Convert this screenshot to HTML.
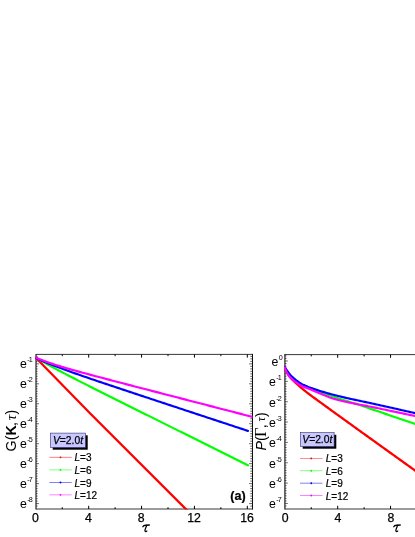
<!DOCTYPE html><html><head><meta charset="utf-8"><style>html,body{margin:0;padding:0;background:#fff}svg{display:block;will-change:transform}</style></head><body><svg width="415" height="537" viewBox="0 0 415 537" font-family="Liberation Sans, sans-serif" fill="#000"><rect width="415" height="537" fill="#fff"/><defs><clipPath id="ca"><rect x="35.3" y="353.4" width="217.2" height="156"/></clipPath><clipPath id="cb"><rect x="284.1" y="353.4" width="140" height="156"/></clipPath></defs><path d="M36.0 354.4H252.5M36.0 509.0H252.5" stroke="#1c1c1c" stroke-width="0.88" fill="none"/><path d="M36.0 353.9V509.5" stroke="#2a2a2a" stroke-width="1.25" fill="none"/><path d="M252.5 353.9V509.5" stroke="#000" stroke-width="0.95" fill="none"/><path d="M62.24 509.0v-1.8M62.24 354.4v1.8M88.68 509.0v-3.2M88.68 354.4v3.2M115.12 509.0v-1.8M115.12 354.4v1.8M141.56 509.0v-3.2M141.56 354.4v3.2M168.00 509.0v-1.8M168.00 354.4v1.8M194.44 509.0v-3.2M194.44 354.4v3.2M220.88 509.0v-1.8M220.88 354.4v1.8M247.32 509.0v-3.2M247.32 354.4v3.2" stroke="#000" stroke-width="1" fill="none"/><path d="M36.0 356.38h1.6M252.5 356.38h-2.2M36.0 358.87h1.6M252.5 358.87h-2.2M36.0 361.36h1.6M252.5 361.36h-2.2M36.0 363.86h2.9M252.5 363.86h-3.4M36.0 366.35h1.6M252.5 366.35h-2.2M36.0 368.85h1.6M252.5 368.85h-2.2M36.0 371.34h1.6M252.5 371.34h-2.2M36.0 373.84h1.6M252.5 373.84h-2.2M36.0 376.33h1.6M252.5 376.33h-2.2M36.0 378.83h1.6M252.5 378.83h-2.2M36.0 381.32h1.6M252.5 381.32h-2.2M36.0 383.82h2.9M252.5 383.82h-3.4M36.0 386.31h1.6M252.5 386.31h-2.2M36.0 388.81h1.6M252.5 388.81h-2.2M36.0 391.30h1.6M252.5 391.30h-2.2M36.0 393.80h1.6M252.5 393.80h-2.2M36.0 396.29h1.6M252.5 396.29h-2.2M36.0 398.79h1.6M252.5 398.79h-2.2M36.0 401.28h1.6M252.5 401.28h-2.2M36.0 403.78h2.9M252.5 403.78h-3.4M36.0 406.27h1.6M252.5 406.27h-2.2M36.0 408.77h1.6M252.5 408.77h-2.2M36.0 411.26h1.6M252.5 411.26h-2.2M36.0 413.76h1.6M252.5 413.76h-2.2M36.0 416.25h1.6M252.5 416.25h-2.2M36.0 418.75h1.6M252.5 418.75h-2.2M36.0 421.25h1.6M252.5 421.25h-2.2M36.0 423.74h2.9M252.5 423.74h-3.4M36.0 426.24h1.6M252.5 426.24h-2.2M36.0 428.73h1.6M252.5 428.73h-2.2M36.0 431.22h1.6M252.5 431.22h-2.2M36.0 433.72h1.6M252.5 433.72h-2.2M36.0 436.21h1.6M252.5 436.21h-2.2M36.0 438.71h1.6M252.5 438.71h-2.2M36.0 441.20h1.6M252.5 441.20h-2.2M36.0 443.70h2.9M252.5 443.70h-3.4M36.0 446.19h1.6M252.5 446.19h-2.2M36.0 448.69h1.6M252.5 448.69h-2.2M36.0 451.19h1.6M252.5 451.19h-2.2M36.0 453.68h1.6M252.5 453.68h-2.2M36.0 456.17h1.6M252.5 456.17h-2.2M36.0 458.67h1.6M252.5 458.67h-2.2M36.0 461.16h1.6M252.5 461.16h-2.2M36.0 463.66h2.9M252.5 463.66h-3.4M36.0 466.15h1.6M252.5 466.15h-2.2M36.0 468.65h1.6M252.5 468.65h-2.2M36.0 471.14h1.6M252.5 471.14h-2.2M36.0 473.64h1.6M252.5 473.64h-2.2M36.0 476.13h1.6M252.5 476.13h-2.2M36.0 478.63h1.6M252.5 478.63h-2.2M36.0 481.12h1.6M252.5 481.12h-2.2M36.0 483.62h2.9M252.5 483.62h-3.4M36.0 486.12h1.6M252.5 486.12h-2.2M36.0 488.61h1.6M252.5 488.61h-2.2M36.0 491.11h1.6M252.5 491.11h-2.2M36.0 493.60h1.6M252.5 493.60h-2.2M36.0 496.09h1.6M252.5 496.09h-2.2M36.0 498.59h1.6M252.5 498.59h-2.2M36.0 501.08h1.6M252.5 501.08h-2.2M36.0 503.58h2.9M252.5 503.58h-3.4M36.0 506.07h1.6M252.5 506.07h-2.2" stroke="#222" stroke-width="0.7" fill="none"/><path d="M284.9 354.6H430M284.9 509.0H430" stroke="#1c1c1c" stroke-width="0.88" fill="none"/><path d="M284.9 354.1V509.5" stroke="#2a2a2a" stroke-width="1.25" fill="none"/><path d="M311.24 509.0v-1.8M311.24 354.6v1.8M337.68 509.0v-3.2M337.68 354.6v3.2M364.12 509.0v-1.8M364.12 354.6v1.8M390.56 509.0v-3.2M390.56 354.6v3.2M417.00 509.0v-1.8M417.00 354.6v1.8" stroke="#000" stroke-width="1" fill="none"/><path d="M284.9 355.91h1.6M284.9 358.46h1.6M284.9 361.00h2.9M284.9 363.54h1.6M284.9 366.09h1.6M284.9 368.63h1.6M284.9 371.17h1.6M284.9 373.72h1.6M284.9 376.26h1.6M284.9 378.81h1.6M284.9 381.35h2.9M284.9 383.89h1.6M284.9 386.44h1.6M284.9 388.98h1.6M284.9 391.52h1.6M284.9 394.07h1.6M284.9 396.61h1.6M284.9 399.16h1.6M284.9 401.70h2.9M284.9 404.24h1.6M284.9 406.79h1.6M284.9 409.33h1.6M284.9 411.88h1.6M284.9 414.42h1.6M284.9 416.96h1.6M284.9 419.51h1.6M284.9 422.05h2.9M284.9 424.59h1.6M284.9 427.14h1.6M284.9 429.68h1.6M284.9 432.22h1.6M284.9 434.77h1.6M284.9 437.31h1.6M284.9 439.86h1.6M284.9 442.40h2.9M284.9 444.94h1.6M284.9 447.49h1.6M284.9 450.03h1.6M284.9 452.57h1.6M284.9 455.12h1.6M284.9 457.66h1.6M284.9 460.21h1.6M284.9 462.75h2.9M284.9 465.29h1.6M284.9 467.84h1.6M284.9 470.38h1.6M284.9 472.92h1.6M284.9 475.47h1.6M284.9 478.01h1.6M284.9 480.56h1.6M284.9 483.10h2.9M284.9 485.64h1.6M284.9 488.19h1.6M284.9 490.73h1.6M284.9 493.27h1.6M284.9 495.82h1.6M284.9 498.36h1.6M284.9 500.91h1.6M284.9 503.45h2.9M284.9 505.99h1.6" stroke="#222" stroke-width="0.7" fill="none"/><g clip-path="url(#ca)"><path d="M35.80 357.70 L90.00 413.20 L200.00 523.20" stroke="#ff0000" stroke-width="2.3" fill="none" stroke-linejoin="round" stroke-linecap="round"/><path d="M35.80 357.60 L37.80 358.79 L39.80 359.97 L41.80 361.13 L43.80 362.27 L45.80 363.40 L47.80 364.52 L49.80 365.62 L51.80 366.72 L53.80 367.80 L55.80 368.88 L57.80 369.95 L59.80 371.01 L61.80 372.06 L63.80 373.11 L65.80 374.16 L67.80 375.20 L69.80 376.23 L71.80 377.26 L73.80 378.29 L75.80 379.32 L77.80 380.34 L79.80 381.36 L81.80 382.37 L83.80 383.39 L85.80 384.40 L87.80 385.41 L89.80 386.42 L91.80 387.43 L93.80 388.44 L95.80 389.45 L97.80 390.45 L99.80 391.45 L101.80 392.46 L103.80 393.46 L105.80 394.46 L107.80 395.46 L109.80 396.46 L111.80 397.46 L113.80 398.46 L115.80 399.46 L117.80 400.46 L119.80 401.46 L121.80 402.46 L123.80 403.45 L125.80 404.45 L127.80 405.45 L129.80 406.45 L131.80 407.44 L133.80 408.44 L135.80 409.44 L137.80 410.43 L139.80 411.43 L141.80 412.42 L143.80 413.42 L145.80 414.42 L147.80 415.41 L149.80 416.41 L151.80 417.40 L153.80 418.40 L155.80 419.39 L157.80 420.39 L159.80 421.39 L161.80 422.38 L163.80 423.38 L165.80 424.37 L167.80 425.37 L169.80 426.36 L171.80 427.36 L173.80 428.35 L175.80 429.35 L177.80 430.34 L179.80 431.34 L181.80 432.33 L183.80 433.33 L185.80 434.32 L187.80 435.32 L189.80 436.31 L191.80 437.31 L193.80 438.30 L195.80 439.30 L197.80 440.29 L199.80 441.29 L201.80 442.28 L203.80 443.28 L205.80 444.27 L207.80 445.27 L209.80 446.26 L211.80 447.26 L213.80 448.25 L215.80 449.25 L217.80 450.24 L219.80 451.24 L221.80 452.23 L223.80 453.23 L225.80 454.22 L227.80 455.22 L229.80 456.21 L231.80 457.21 L233.80 458.20 L235.80 459.20 L237.80 460.19 L239.80 461.19 L241.80 462.18 L243.80 463.18 L245.80 464.17 L247.80 465.17 L248.00 465.27" stroke="#00ff00" stroke-width="2.15" fill="none" stroke-linejoin="round" stroke-linecap="round"/><path d="M35.80 358.00 L37.80 358.91 L39.80 359.80 L41.80 360.67 L43.80 361.52 L45.80 362.36 L47.80 363.18 L49.80 363.99 L51.80 364.78 L53.80 365.56 L55.80 366.33 L57.80 367.09 L59.80 367.85 L61.80 368.59 L63.80 369.33 L65.80 370.06 L67.80 370.78 L69.80 371.50 L71.80 372.22 L73.80 372.92 L75.80 373.63 L77.80 374.33 L79.80 375.03 L81.80 375.72 L83.80 376.41 L85.80 377.10 L87.80 377.79 L89.80 378.47 L91.80 379.15 L93.80 379.83 L95.80 380.51 L97.80 381.19 L99.80 381.86 L101.80 382.54 L103.80 383.21 L105.80 383.88 L107.80 384.55 L109.80 385.22 L111.80 385.89 L113.80 386.56 L115.80 387.22 L117.80 387.89 L119.80 388.56 L121.80 389.22 L123.80 389.89 L125.80 390.55 L127.80 391.22 L129.80 391.88 L131.80 392.54 L133.80 393.21 L135.80 393.87 L137.80 394.53 L139.80 395.19 L141.80 395.86 L143.80 396.52 L145.80 397.18 L147.80 397.84 L149.80 398.50 L151.80 399.17 L153.80 399.83 L155.80 400.49 L157.80 401.15 L159.80 401.81 L161.80 402.47 L163.80 403.13 L165.80 403.79 L167.80 404.45 L169.80 405.11 L171.80 405.77 L173.80 406.43 L175.80 407.10 L177.80 407.76 L179.80 408.42 L181.80 409.08 L183.80 409.74 L185.80 410.40 L187.80 411.06 L189.80 411.72 L191.80 412.38 L193.80 413.04 L195.80 413.70 L197.80 414.36 L199.80 415.02 L201.80 415.68 L203.80 416.34 L205.80 417.00 L207.80 417.66 L209.80 418.32 L211.80 418.98 L213.80 419.64 L215.80 420.30 L217.80 420.96 L219.80 421.62 L221.80 422.28 L223.80 422.94 L225.80 423.60 L227.80 424.26 L229.80 424.92 L231.80 425.58 L233.80 426.24 L235.80 426.90 L237.80 427.56 L239.80 428.22 L241.80 428.88 L243.80 429.54 L245.80 430.20 L247.80 430.86 L248.00 430.93" stroke="#0000ff" stroke-width="2.15" fill="none" stroke-linejoin="round" stroke-linecap="round"/><path d="M35.80 357.60 L37.80 358.45 L39.80 359.26 L41.80 360.05 L43.80 360.81 L45.80 361.54 L47.80 362.25 L49.80 362.94 L51.80 363.61 L53.80 364.27 L55.80 364.91 L57.80 365.54 L59.80 366.15 L61.80 366.76 L63.80 367.36 L65.80 367.95 L67.80 368.53 L69.80 369.11 L71.80 369.68 L73.80 370.24 L75.80 370.80 L77.80 371.36 L79.80 371.91 L81.80 372.45 L83.80 373.00 L85.80 373.54 L87.80 374.08 L89.80 374.62 L91.80 375.15 L93.80 375.69 L95.80 376.22 L97.80 376.75 L99.80 377.28 L101.80 377.81 L103.80 378.33 L105.80 378.86 L107.80 379.39 L109.80 379.91 L111.80 380.43 L113.80 380.96 L115.80 381.48 L117.80 382.00 L119.80 382.52 L121.80 383.04 L123.80 383.57 L125.80 384.09 L127.80 384.61 L129.80 385.13 L131.80 385.65 L133.80 386.17 L135.80 386.69 L137.80 387.21 L139.80 387.73 L141.80 388.24 L143.80 388.76 L145.80 389.28 L147.80 389.80 L149.80 390.32 L151.80 390.84 L153.80 391.36 L155.80 391.88 L157.80 392.39 L159.80 392.91 L161.80 393.43 L163.80 393.95 L165.80 394.47 L167.80 394.99 L169.80 395.50 L171.80 396.02 L173.80 396.54 L175.80 397.06 L177.80 397.58 L179.80 398.09 L181.80 398.61 L183.80 399.13 L185.80 399.65 L187.80 400.17 L189.80 400.69 L191.80 401.20 L193.80 401.72 L195.80 402.24 L197.80 402.76 L199.80 403.28 L201.80 403.79 L203.80 404.31 L205.80 404.83 L207.80 405.35 L209.80 405.87 L211.80 406.38 L213.80 406.90 L215.80 407.42 L217.80 407.94 L219.80 408.46 L221.80 408.97 L223.80 409.49 L225.80 410.01 L227.80 410.53 L229.80 411.05 L231.80 411.56 L233.80 412.08 L235.80 412.60 L237.80 413.12 L239.80 413.64 L241.80 414.15 L243.80 414.67 L245.80 415.19 L247.80 415.71 L249.80 416.23 L251.80 416.74 L252.60 416.95" stroke="#ff00ff" stroke-width="2.15" fill="none" stroke-linejoin="round" stroke-linecap="round"/></g><g clip-path="url(#cb)"><path d="M284.70 367.30 L286.20 371.17 L286.70 372.20 L288.20 374.66 L289.70 376.65 L290.40 377.50 L291.90 379.15 L293.40 380.62 L294.20 381.40 L295.70 382.85 L297.20 384.25 L297.90 384.90 L299.40 386.27 L300.90 387.60 L301.60 388.20 L303.10 389.45 L304.60 390.65 L305.30 391.20 L306.80 392.36 L308.30 393.50 L309.10 394.10 L310.60 395.22 L312.10 396.33 L312.80 396.85 L314.30 397.95 L315.80 399.05 L317.30 400.14 L318.80 401.23 L320.00 402.10 L321.50 403.19 L323.00 404.28 L324.50 405.37 L326.00 406.46 L327.50 407.55 L329.00 408.64 L330.50 409.73 L332.00 410.81 L333.50 411.90 L335.00 412.98 L336.50 414.07 L338.00 415.15 L339.50 416.24 L340.00 416.60 L341.50 417.68 L343.00 418.77 L344.50 419.85 L346.00 420.93 L347.50 422.01 L349.00 423.09 L350.50 424.18 L352.00 425.26 L353.50 426.34 L355.00 427.42 L356.50 428.50 L358.00 429.58 L359.50 430.66 L361.00 431.73 L362.50 432.81 L364.00 433.89 L365.50 434.97 L367.00 436.05 L368.50 437.13 L370.00 438.20 L371.50 439.28 L373.00 440.36 L374.50 441.43 L376.00 442.51 L377.50 443.59 L379.00 444.66 L380.50 445.74 L382.00 446.82 L383.50 447.89 L385.00 448.97 L386.50 450.05 L388.00 451.12 L389.50 452.20 L391.00 453.27 L392.50 454.35 L394.00 455.42 L395.50 456.50 L397.00 457.57 L398.50 458.65 L400.00 459.73 L401.50 460.80 L403.00 461.88 L404.50 462.95 L406.00 464.03 L407.50 465.10 L409.00 466.18 L410.50 467.25 L412.00 468.33 L413.50 469.41 L415.00 470.48 L416.50 471.56 L418.00 472.63 L419.50 473.71 L421.00 474.79 L422.50 475.86 L424.00 476.94 L425.50 478.02 L427.00 479.09 L428.50 480.17 L430.00 481.25" stroke="#ff0000" stroke-width="2.3" fill="none" stroke-linejoin="round" stroke-linecap="round"/><path d="M284.70 367.10 L286.20 370.13 L286.70 371.00 L288.20 373.26 L289.70 375.19 L290.40 376.00 L291.90 377.55 L293.40 378.92 L294.20 379.60 L295.70 380.81 L297.20 381.91 L297.90 382.40 L299.40 383.40 L300.90 384.31 L301.60 384.70 L303.10 385.43 L304.60 386.09 L305.30 386.40 L306.80 387.05 L308.30 387.68 L309.10 388.00 L310.60 388.58 L312.10 389.14 L312.80 389.40 L314.30 389.97 L315.80 390.55 L317.30 391.12 L318.60 391.60 L320.10 392.15 L321.60 392.69 L323.10 393.22 L324.60 393.75 L326.10 394.28 L327.60 394.80 L329.10 395.31 L330.60 395.83 L332.10 396.33 L333.60 396.83 L335.00 397.30 L336.50 397.79 L338.00 398.28 L339.50 398.75 L341.00 399.22 L342.50 399.69 L344.00 400.16 L345.50 400.62 L347.00 401.08 L348.50 401.55 L350.00 402.01 L351.50 402.48 L353.00 402.96 L354.50 403.44 L355.00 403.60 L356.50 404.09 L358.00 404.58 L359.50 405.08 L361.00 405.58 L362.50 406.08 L364.00 406.58 L365.50 407.09 L367.00 407.59 L368.50 408.10 L370.00 408.61 L371.50 409.12 L373.00 409.62 L374.50 410.13 L375.00 410.30 L376.50 410.81 L378.00 411.32 L379.50 411.83 L381.00 412.34 L382.50 412.85 L384.00 413.36 L385.50 413.88 L387.00 414.39 L388.50 414.91 L390.00 415.43 L391.50 415.94 L393.00 416.46 L394.50 416.97 L396.00 417.49 L397.50 418.00 L399.00 418.52 L400.50 419.03 L402.00 419.54 L403.50 420.05 L405.00 420.56 L406.50 421.07 L408.00 421.57 L409.50 422.08 L411.00 422.58 L412.50 423.08 L414.00 423.57 L415.00 423.90 L416.50 424.39 L418.00 424.88 L419.50 425.36 L421.00 425.84 L422.50 426.32 L424.00 426.79 L425.50 427.27 L427.00 427.74 L428.50 428.22 L430.00 428.70" stroke="#00ff00" stroke-width="2.15" fill="none" stroke-linejoin="round" stroke-linecap="round"/><path d="M284.70 366.80 L286.20 369.24 L286.70 370.00 L288.20 372.18 L289.70 374.18 L290.40 375.00 L291.90 376.55 L293.40 377.91 L294.20 378.60 L295.70 379.84 L297.20 380.99 L297.90 381.50 L299.40 382.54 L300.90 383.50 L301.60 383.90 L303.10 384.66 L304.60 385.34 L305.30 385.65 L306.80 386.33 L308.30 386.98 L309.10 387.30 L310.60 387.85 L312.10 388.36 L312.80 388.60 L314.30 389.11 L315.80 389.61 L317.30 390.09 L318.60 390.50 L320.10 390.96 L321.60 391.42 L323.10 391.87 L324.60 392.31 L326.10 392.75 L327.60 393.18 L329.10 393.61 L330.60 394.02 L332.10 394.43 L333.60 394.83 L335.00 395.20 L336.50 395.58 L338.00 395.95 L339.50 396.32 L341.00 396.67 L342.50 397.02 L344.00 397.37 L345.00 397.60 L346.50 397.94 L348.00 398.28 L349.50 398.62 L351.00 398.95 L352.50 399.27 L354.00 399.60 L355.50 399.92 L357.00 400.25 L358.50 400.57 L360.00 400.88 L361.50 401.20 L363.00 401.52 L364.50 401.84 L366.00 402.16 L367.50 402.48 L369.00 402.80 L370.50 403.12 L372.00 403.44 L373.50 403.77 L375.00 404.10 L376.50 404.43 L378.00 404.76 L379.50 405.10 L381.00 405.43 L382.50 405.77 L384.00 406.11 L385.50 406.44 L387.00 406.78 L388.50 407.12 L390.00 407.46 L391.50 407.80 L393.00 408.14 L394.50 408.48 L396.00 408.82 L397.50 409.16 L399.00 409.50 L400.50 409.84 L402.00 410.18 L403.50 410.52 L405.00 410.86 L406.50 411.20 L408.00 411.53 L409.50 411.87 L411.00 412.21 L412.50 412.54 L414.00 412.88 L415.00 413.10 L416.50 413.43 L418.00 413.76 L419.50 414.09 L421.00 414.42 L422.50 414.75 L424.00 415.08 L425.50 415.41 L427.00 415.74 L428.50 416.07 L430.00 416.40" stroke="#0000ff" stroke-width="2.15" fill="none" stroke-linejoin="round" stroke-linecap="round"/><path d="M284.70 367.30 L286.20 371.26 L286.70 372.30 L288.20 374.79 L289.70 376.79 L290.40 377.60 L291.90 379.14 L293.40 380.45 L294.20 381.10 L295.70 382.23 L297.20 383.25 L297.90 383.70 L299.40 384.66 L300.90 385.54 L301.60 385.90 L303.10 386.55 L304.60 387.13 L305.30 387.40 L306.80 387.99 L308.30 388.58 L309.10 388.90 L310.60 389.50 L312.10 390.11 L312.80 390.40 L314.30 391.04 L315.80 391.70 L317.30 392.36 L318.60 392.90 L320.10 393.51 L321.60 394.13 L323.10 394.75 L324.60 395.37 L326.10 395.98 L327.60 396.57 L329.10 397.14 L330.60 397.69 L332.10 398.20 L333.60 398.69 L335.00 399.10 L336.50 399.52 L338.00 399.92 L339.50 400.31 L341.00 400.68 L342.50 401.04 L344.00 401.40 L345.50 401.74 L347.00 402.07 L348.50 402.39 L350.00 402.71 L351.50 403.01 L353.00 403.32 L354.50 403.61 L356.00 403.90 L357.50 404.19 L359.00 404.48 L360.50 404.76 L362.00 405.05 L363.50 405.33 L365.00 405.61 L366.50 405.90 L368.00 406.19 L369.50 406.48 L371.00 406.78 L372.50 407.08 L374.00 407.39 L375.00 407.60 L376.50 407.92 L378.00 408.23 L379.50 408.55 L381.00 408.87 L382.50 409.18 L384.00 409.50 L385.50 409.82 L387.00 410.13 L388.50 410.45 L390.00 410.76 L391.50 411.08 L393.00 411.40 L394.50 411.71 L396.00 412.03 L397.50 412.34 L399.00 412.66 L400.50 412.97 L402.00 413.28 L403.50 413.60 L405.00 413.91 L406.50 414.23 L408.00 414.54 L409.50 414.85 L411.00 415.17 L412.50 415.48 L414.00 415.79 L415.00 416.00 L416.50 416.31 L418.00 416.62 L419.50 416.93 L421.00 417.24 L422.50 417.55 L424.00 417.86 L425.50 418.17 L427.00 418.48 L428.50 418.79 L430.00 419.10" stroke="#ff00ff" stroke-width="2.15" fill="none" stroke-linejoin="round" stroke-linecap="round"/></g><text x="19.9" y="368.46" font-size="12.3">e<tspan font-size="7.2" dx="0.4" dy="-6.4">-</tspan><tspan font-size="7.2" dx="-0.9">1</tspan></text><text x="19.9" y="388.42" font-size="12.3">e<tspan font-size="7.2" dx="0.4" dy="-6.4">-</tspan><tspan font-size="7.2" dx="-0.9">2</tspan></text><text x="19.9" y="408.38" font-size="12.3">e<tspan font-size="7.2" dx="0.4" dy="-6.4">-</tspan><tspan font-size="7.2" dx="-0.9">3</tspan></text><text x="19.9" y="428.34" font-size="12.3">e<tspan font-size="7.2" dx="0.4" dy="-6.4">-</tspan><tspan font-size="7.2" dx="-0.9">4</tspan></text><text x="19.9" y="448.30" font-size="12.3">e<tspan font-size="7.2" dx="0.4" dy="-6.4">-</tspan><tspan font-size="7.2" dx="-0.9">5</tspan></text><text x="19.9" y="468.26" font-size="12.3">e<tspan font-size="7.2" dx="0.4" dy="-6.4">-</tspan><tspan font-size="7.2" dx="-0.9">6</tspan></text><text x="19.9" y="488.22" font-size="12.3">e<tspan font-size="7.2" dx="0.4" dy="-6.4">-</tspan><tspan font-size="7.2" dx="-0.9">7</tspan></text><text x="19.9" y="508.18" font-size="12.3">e<tspan font-size="7.2" dx="0.4" dy="-6.4">-</tspan><tspan font-size="7.2" dx="-0.9">8</tspan></text><text x="271.6" y="365.85" font-size="12.3">e<tspan font-size="7.2" dx="0.2" dy="-5.9">0</tspan></text><text x="269.0" y="386.20" font-size="12.3">e<tspan font-size="7.2" dx="0.4" dy="-5.9">-</tspan><tspan font-size="7.2" dx="-0.9">1</tspan></text><text x="269.0" y="406.55" font-size="12.3">e<tspan font-size="7.2" dx="0.4" dy="-5.9">-</tspan><tspan font-size="7.2" dx="-0.9">2</tspan></text><text x="269.0" y="426.90" font-size="12.3">e<tspan font-size="7.2" dx="0.4" dy="-5.9">-</tspan><tspan font-size="7.2" dx="-0.9">3</tspan></text><text x="269.0" y="447.25" font-size="12.3">e<tspan font-size="7.2" dx="0.4" dy="-5.9">-</tspan><tspan font-size="7.2" dx="-0.9">4</tspan></text><text x="269.0" y="467.60" font-size="12.3">e<tspan font-size="7.2" dx="0.4" dy="-5.9">-</tspan><tspan font-size="7.2" dx="-0.9">5</tspan></text><text x="269.0" y="487.95" font-size="12.3">e<tspan font-size="7.2" dx="0.4" dy="-5.9">-</tspan><tspan font-size="7.2" dx="-0.9">6</tspan></text><text x="269.0" y="508.30" font-size="12.3">e<tspan font-size="7.2" dx="0.4" dy="-5.9">-</tspan><tspan font-size="7.2" dx="-0.9">7</tspan></text><text x="35.50" y="522.1" font-size="12.3" text-anchor="middle" stroke="#000" stroke-width="0.25">0</text><text x="88.38" y="522.1" font-size="12.3" text-anchor="middle" stroke="#000" stroke-width="0.25">4</text><text x="141.26" y="522.1" font-size="12.3" text-anchor="middle" stroke="#000" stroke-width="0.25">8</text><text x="194.14" y="522.1" font-size="12.3" text-anchor="middle" stroke="#000" stroke-width="0.25">12</text><text x="247.02" y="522.1" font-size="12.3" text-anchor="middle" stroke="#000" stroke-width="0.25">16</text><text x="285.10" y="522.1" font-size="12.3" text-anchor="middle" stroke="#000" stroke-width="0.25">0</text><text x="337.98" y="522.1" font-size="12.3" text-anchor="middle" stroke="#000" stroke-width="0.25">4</text><text x="390.86" y="522.1" font-size="12.3" text-anchor="middle" stroke="#000" stroke-width="0.25">8</text><g transform="translate(14.61 0) scale(0.9 1)" fill="none" stroke="#000" stroke-linecap="round" stroke-linejoin="round"><path d="M142.5 526.7C143.1 525.4 144.3 525.25 146 525.3L149.7 524.95" stroke-width="1.45"/><path d="M146.7 525.4C146.1 527.6 144.7 529.4 144.8 530.7C144.95 531.9 146.2 531.8 146.9 531.1" stroke-width="1.35"/></g><g transform="translate(265.51 0) scale(0.9 1)" fill="none" stroke="#000" stroke-linecap="round" stroke-linejoin="round"><path d="M142.5 526.7C143.1 525.4 144.3 525.25 146 525.3L149.7 524.95" stroke-width="1.45"/><path d="M146.7 525.4C146.1 527.6 144.7 529.4 144.8 530.7C144.95 531.9 146.2 531.8 146.9 531.1" stroke-width="1.35"/></g><text transform="translate(16.1 451.4) rotate(-90)" font-size="14.3">G(<tspan font-weight="bold">K</tspan><tspan dx="-0.8">,</tspan><tspan font-family="Liberation Serif, serif" font-style="italic" font-size="15.5" dx="1.7">τ</tspan><tspan dx="0.3">)</tspan></text><text transform="translate(266.2 450.5) rotate(-90)" font-size="14.3"><tspan font-style="italic">P</tspan>(<tspan font-family="Liberation Serif, serif" font-size="16.5" dx="-0.8">Γ</tspan><tspan dx="-0.9">,</tspan><tspan font-family="Liberation Serif, serif" font-style="italic" font-size="12.5" dx="2.8" dy="-1.3">τ</tspan><tspan dx="0.2" dy="1.3">)</tspan></text><text x="237.9" y="500.0" font-size="12.6" font-weight="bold" text-anchor="middle" stroke="#000" stroke-width="0.2">(a)</text><rect x="52.7" y="435.3" width="35" height="14.4" fill="#000"/><rect x="50.5" y="433.1" width="35" height="14.4" fill="#c8c8ff" stroke="#303070" stroke-width="0.6"/><text x="68.0" y="444.0" font-size="10.3" text-anchor="middle" stroke="#000" stroke-width="0.25"><tspan font-style="italic">V</tspan>=2.0<tspan font-style="italic">t</tspan></text><path d="M49.3 457.35H71.7" stroke="#ff0000" stroke-width="0.8" opacity="0.62"/><circle cx="60.5" cy="457.35" r="0.95" fill="#ff0000"/><text x="74.5" y="461.35" font-size="10" stroke="#000" stroke-width="0.2"><tspan font-style="italic">L</tspan>=3</text><path d="M49.3 469.9H71.7" stroke="#00ff00" stroke-width="0.8" opacity="0.62"/><circle cx="60.5" cy="469.9" r="0.95" fill="#00ff00"/><text x="74.5" y="473.90" font-size="10" stroke="#000" stroke-width="0.2"><tspan font-style="italic">L</tspan>=6</text><path d="M49.3 482.5H71.7" stroke="#0000ff" stroke-width="0.8" opacity="0.62"/><circle cx="60.5" cy="482.5" r="0.95" fill="#0000ff"/><text x="74.5" y="486.50" font-size="10" stroke="#000" stroke-width="0.2"><tspan font-style="italic">L</tspan>=9</text><path d="M49.3 494.85H71.7" stroke="#ff00ff" stroke-width="0.8" opacity="0.62"/><circle cx="60.5" cy="494.85" r="0.95" fill="#ff00ff"/><text x="74.5" y="498.85" font-size="10" stroke="#000" stroke-width="0.2"><tspan font-style="italic">L</tspan>=12</text><rect x="302.7" y="434.8" width="33.6" height="13.9" fill="#000"/><rect x="300.5" y="432.6" width="33.6" height="13.9" fill="#c8c8ff" stroke="#303070" stroke-width="0.6"/><text x="317.3" y="443.25" font-size="10.3" text-anchor="middle" stroke="#000" stroke-width="0.25"><tspan font-style="italic">V</tspan>=2.0<tspan font-style="italic">t</tspan></text><path d="M300.0 458.4H322.5" stroke="#ff0000" stroke-width="0.8" opacity="0.62"/><circle cx="311.25" cy="458.4" r="0.95" fill="#ff0000"/><text x="325.8" y="462.40" font-size="10" stroke="#000" stroke-width="0.2"><tspan font-style="italic">L</tspan>=3</text><path d="M300.0 470.7H322.5" stroke="#00ff00" stroke-width="0.8" opacity="0.62"/><circle cx="311.25" cy="470.7" r="0.95" fill="#00ff00"/><text x="325.8" y="474.70" font-size="10" stroke="#000" stroke-width="0.2"><tspan font-style="italic">L</tspan>=6</text><path d="M300.0 483.2H322.5" stroke="#0000ff" stroke-width="0.8" opacity="0.62"/><circle cx="311.25" cy="483.2" r="0.95" fill="#0000ff"/><text x="325.8" y="487.20" font-size="10" stroke="#000" stroke-width="0.2"><tspan font-style="italic">L</tspan>=9</text><path d="M300.0 495.5H322.5" stroke="#ff00ff" stroke-width="0.8" opacity="0.62"/><circle cx="311.25" cy="495.5" r="0.95" fill="#ff00ff"/><text x="325.8" y="499.50" font-size="10" stroke="#000" stroke-width="0.2"><tspan font-style="italic">L</tspan>=12</text></svg></body></html>
